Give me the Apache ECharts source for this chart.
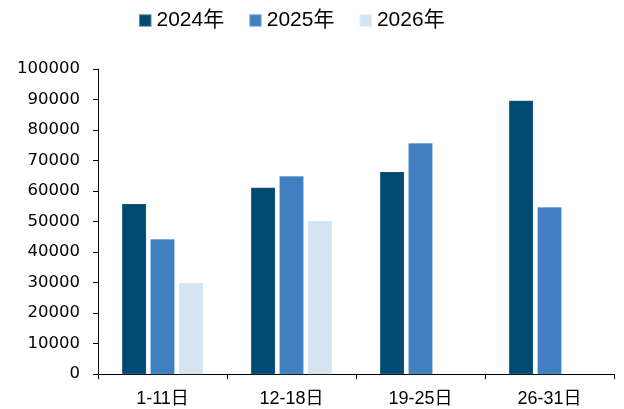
<!DOCTYPE html>
<html>
<head>
<meta charset="utf-8">
<style>
  html, body { margin: 0; padding: 0; background: #ffffff; }
  #chart { width: 624px; height: 409px; }
</style>
<script src="https://cdn.jsdelivr.net/npm/echarts@6/dist/echarts.min.js"></script>
</head>
<body>
<div id="chart"></div>
<script>
// Weekly periods of the month
const categories = ['1-11日', '12-18日', '19-25日', '26-31日'];
// Values per year
const values2024 = [55900, 61200, 66400, 89700];
const values2025 = [44300, 65000, 75800, 54800];
const values2026 = [30000, 50300, null, null];
const seriesNames = ['2024年', '2025年', '2026年'];
const seriesColors = ['#004a72', '#4180c0', '#d3e4f3'];

const chart = echarts.init(document.getElementById('chart'), null, { renderer: 'canvas' });

const fontFamily = '"Liberation Sans", Arial, "Noto Sans CJK SC", sans-serif';
const yFontFamily = '"DejaVu Sans", "Liberation Sans", sans-serif';

function barSeries(name, data, color) {
  return {
    name: name,
    type: 'bar',
    data: data,
    barWidth: 24.5,
    barGap: '16%',
    itemStyle: { color: color, borderColor: 'rgba(255,255,255,0.35)', borderWidth: 0.5 },
    emphasis: { disabled: true }
  };
}

chart.setOption({
  animation: false,
  backgroundColor: '#ffffff',
  legend: {
    top: 5,
    left: 133,
    itemWidth: 12.5,
    itemHeight: 12.5,
    itemGap: 24,
    icon: 'rect',
    textStyle: { fontFamily: fontFamily, fontSize: 21, color: '#000000' },
    data: seriesNames
  },
  grid: { left: 98, right: 10, top: 69.2, bottom: 34.8, containLabel: false },
  xAxis: {
    type: 'category',
    data: categories,
    axisLine: { show: true, lineStyle: { color: '#000000', width: 1 } },
    axisTick: { show: true, length: 5, inside: false, lineStyle: { color: '#000000' } },
    axisLabel: { fontFamily: fontFamily, fontSize: 18, color: '#000000', margin: 16 },
    splitLine: { show: false }
  },
  yAxis: {
    type: 'value',
    min: 0,
    max: 100000,
    interval: 10000,
    axisLine: { show: true, lineStyle: { color: '#000000', width: 1 } },
    axisTick: { show: true, length: 5, lineStyle: { color: '#000000' } },
    axisLabel: {
      fontFamily: yFontFamily,
      fontSize: 16.5,
      color: '#000000',
      margin: 18,
      formatter: (v) => String(v)
    },
    splitLine: { show: false }
  },
  series: [
    barSeries(seriesNames[0], values2024, seriesColors[0]),
    barSeries(seriesNames[1], values2025, seriesColors[1]),
    barSeries(seriesNames[2], values2026, seriesColors[2])
  ]
});
</script>
</body>
</html>
